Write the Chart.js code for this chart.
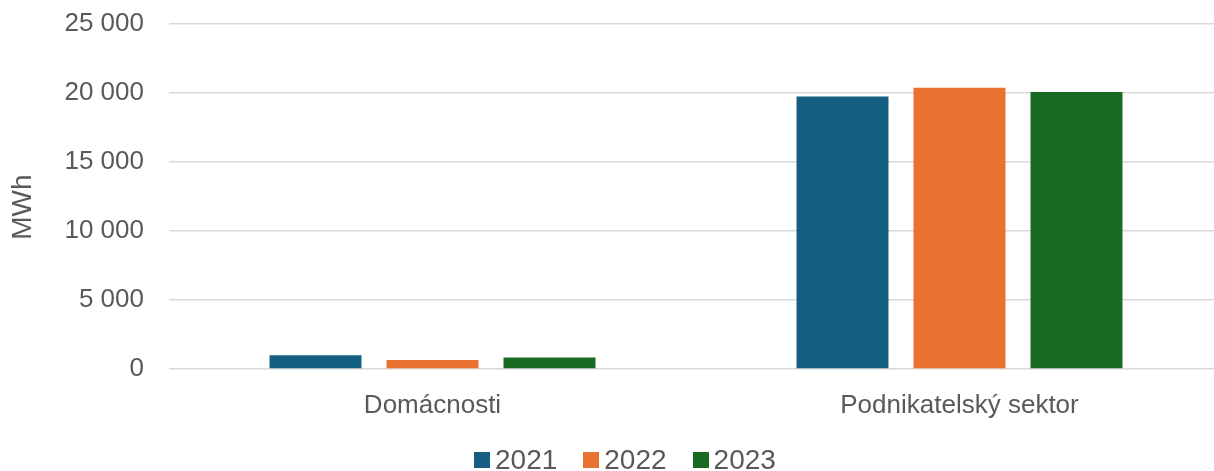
<!DOCTYPE html>
<html>
<head>
<meta charset="utf-8">
<script src="https://cdn.jsdelivr.net/npm/chart.js@4"></script>
<style>
  html, body { margin: 0; padding: 0; background: #fff; overflow: hidden; width: 1214px; height: 471px; }
  #wrap { position: relative; width: 1223px; height: 471px; }
  #legend { position: absolute; left: 474px; top: 446px; display: flex; align-items: center;
            font-family: "Liberation Sans", Arial, sans-serif; font-size: 28px; color: #595959; line-height: 28px; }
  .item { display: flex; align-items: center; margin-right: 26px; }
  .box { width: 16px; height: 16px; margin-right: 5px; }
</style>
</head>
<body>
<div id="wrap">
  <canvas id="c" width="1223" height="471"></canvas>
  <div id="legend"></div>
</div>
<script>
const categories = ["Domácnosti", "Podnikatelský sektor"];
const seriesLabels = ["2021", "2022", "2023"];
const values2021 = [1000, 19750];
const values2022 = [650, 20380];
const values2023 = [830, 20070];
const colors = ["#156082", "#E97132", "#196B24"];
const yTickValues = [0, 5000, 10000, 15000, 20000, 25000];
const yTitle = "MWh";

const FONT = '"Liberation Sans", Arial, sans-serif';
const TXT = '#595959';

const seriesValues = [values2021, values2022, values2023];
const datasets = seriesLabels.map((l, i) => ({
  label: l,
  data: seriesValues[i],
  backgroundColor: colors[i],
  borderWidth: 0,
  categoryPercentage: 0.666,
  barPercentage: 0.786
}));

new Chart(document.getElementById('c'), {
  type: 'bar',
  data: { labels: categories, datasets },
  options: {
    responsive: false,
    animation: false,
    devicePixelRatio: 1,
    layout: { padding: { top: 24, bottom: 47, left: 0, right: 0 } },
    plugins: { legend: { display: false }, tooltip: { enabled: false } },
    scales: {
      x: {
        grid: { display: false },
        border: { display: false },
        ticks: { color: TXT, font: { family: FONT, size: 26 }, padding: 13, maxRotation: 0 },
        afterFit: s => { s.height = 55; }
      },
      y: {
        min: 0, max: 25000,
        afterBuildTicks: s => { s.ticks = yTickValues.map(v => ({ value: v })); },
        grid: { color: '#D9D9D9', lineWidth: 1.5, drawTicks: false },
        border: { display: false },
        ticks: {
          color: TXT, font: { family: FONT, size: 26 }, padding: 25,
          callback: v => String(v).replace(/\B(?=(\d{3})+(?!\d))/g, '\u00a0')
        },
        title: { display: true, text: yTitle + '\u00a0\u00a0\u2009', color: TXT, font: { family: FONT, size: 28 }, padding: { top: 6, bottom: 0 } },
        afterFit: s => { s.width = 169; s.paddingTop = 0; s.paddingBottom = 0; }
      }
    }
  }
});

const lg = document.getElementById('legend');
seriesLabels.forEach((l, i) => {
  const it = document.createElement('div');
  it.className = 'item';
  const b = document.createElement('div');
  b.className = 'box';
  b.style.background = colors[i];
  const t = document.createElement('span');
  t.textContent = l;
  it.appendChild(b); it.appendChild(t);
  lg.appendChild(it);
});
</script>
</body>
</html>
